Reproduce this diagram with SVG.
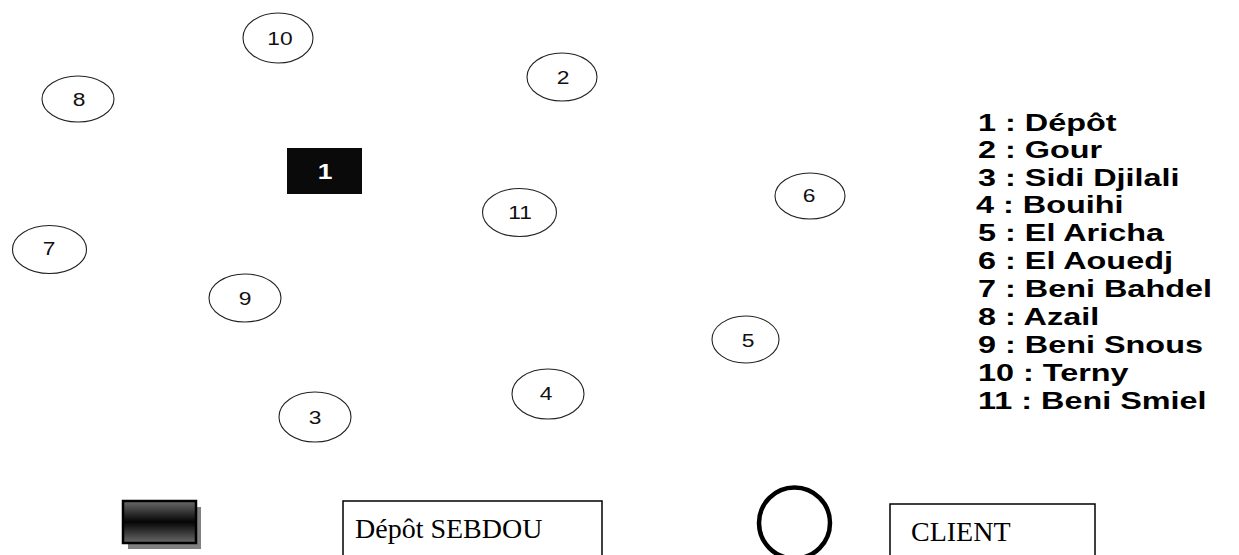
<svg xmlns="http://www.w3.org/2000/svg" width="1239" height="555" viewBox="0 0 1239 555">
<style>
.node ellipse{fill:#fff;stroke:#222;stroke-width:1.1}
.node text{font-family:"Liberation Sans",Arial,sans-serif;font-size:19px;fill:#111;text-anchor:middle;dominant-baseline:central}
.leg{font-family:"Liberation Sans",Arial,sans-serif;font-weight:bold;font-size:24px;fill:#000}
.tnr{font-family:"Liberation Serif","Times New Roman",serif;font-size:28px;fill:#000}
</style>
<defs>
<linearGradient id="dg" x1="0" y1="0" x2="0" y2="1">
<stop offset="0" stop-color="#6a6a6a"/>
<stop offset="0.5" stop-color="#050505"/>
<stop offset="1" stop-color="#6a6a6a"/>
</linearGradient>
</defs>
<rect width="1239" height="555" fill="#fff"/>
<g id="connectors"/>
<g id="n1" class="node"><rect x="287" y="148" width="75" height="46" fill="#0a0a0a"/><text transform="translate(325,171) scale(1.2,1)" style="fill:#fff;font-weight:bold;font-size:22px">1</text></g>
<g id="n2" class="node"><ellipse cx="562" cy="77" rx="35" ry="24"/><text transform="translate(563,77) scale(1.2,1)">2</text></g>
<g id="n3" class="node"><ellipse cx="315" cy="417" rx="36" ry="25"/><text transform="translate(315,417) scale(1.2,1)">3</text></g>
<g id="n4" class="node"><ellipse cx="548" cy="394" rx="36" ry="25"/><text transform="translate(546,393) scale(1.2,1)">4</text></g>
<g id="n5" class="node"><ellipse cx="745.5" cy="339.5" rx="33.5" ry="23.5"/><text transform="translate(748,340) scale(1.2,1)">5</text></g>
<g id="n6" class="node"><ellipse cx="810" cy="196" rx="35" ry="23"/><text transform="translate(809,195) scale(1.2,1)">6</text></g>
<g id="n7" class="node"><ellipse cx="49.5" cy="249.5" rx="37" ry="24"/><text transform="translate(49,248) scale(1.2,1)">7</text></g>
<g id="n8" class="node"><ellipse cx="78" cy="99" rx="36" ry="23"/><text transform="translate(79,99) scale(1.2,1)">8</text></g>
<g id="n9" class="node"><ellipse cx="245" cy="298" rx="36" ry="24"/><text transform="translate(245,298) scale(1.2,1)">9</text></g>
<g id="n10" class="node"><ellipse cx="278" cy="38" rx="35" ry="25"/><text transform="translate(280,38) scale(1.2,1)">10</text></g>
<g id="n11" class="node"><ellipse cx="519.5" cy="212.5" rx="37" ry="24"/><text transform="translate(520,212) scale(1.2,1)">11</text></g>
<g id="legend" transform="translate(978,0) scale(1.35,1)">
<text class="leg" x="0" y="131">1 : Dépôt</text>
<text class="leg" x="0" y="158">2 : Gour</text>
<text class="leg" x="0" y="186">3 : Sidi Djilali</text>
<text class="leg" x="-1.5" y="213">4 : Bouihi</text>
<text class="leg" x="0" y="241">5 : El Aricha</text>
<text class="leg" x="0" y="269">6 : El Aouedj</text>
<text class="leg" x="0" y="297">7 : Beni Bahdel</text>
<text class="leg" x="0" y="325">8 : Azail</text>
<text class="leg" x="0" y="353">9 : Beni Snous</text>
<text class="leg" x="0" y="381">10 : Terny</text>
<text class="leg" x="0" y="409">11 : Beni Smiel</text>
</g>
<g id="key-depot">
<rect x="128" y="507" width="73" height="42" fill="#808080"/>
<rect x="123" y="501" width="73" height="42" fill="url(#dg)" stroke="#000" stroke-width="2.5"/>
</g>
<g id="key-depot-label">
<rect x="343" y="501" width="259" height="70" fill="#fff" stroke="#000" stroke-width="1.5"/>
<text class="tnr" x="355" y="538">Dépôt SEBDOU</text>
</g>
<g id="key-client">
<circle cx="794.5" cy="523" r="35.5" fill="#fff" stroke="#000" stroke-width="4.5"/>
</g>
<g id="key-client-label">
<rect x="890" y="504" width="205" height="70" fill="#fff" stroke="#000" stroke-width="1.5"/>
<text class="tnr" x="911" y="541">CLIENT</text>
</g>
</svg>
